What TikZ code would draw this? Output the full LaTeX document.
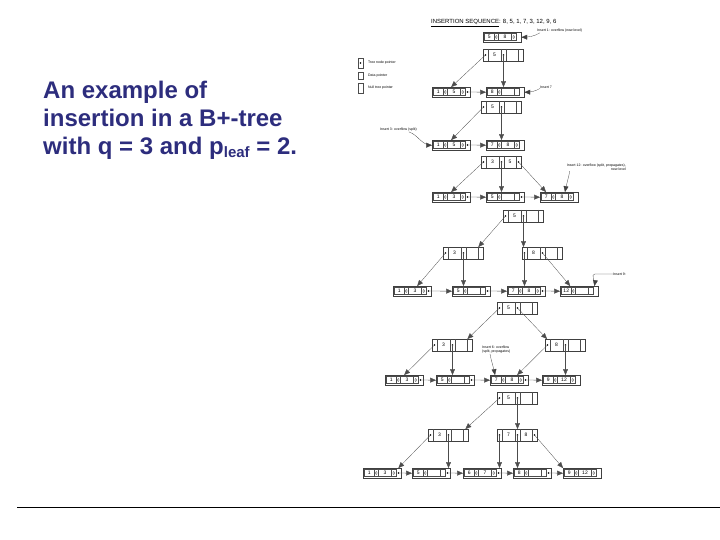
\documentclass[tikz,border=0pt]{standalone}
\usepackage{fontspec}
\setmainfont{Liberation Sans}
\usepackage{xcolor}
\usepackage{tikz}
\usetikzlibrary{arrows}

\definecolor{slideblue}{HTML}{2D2D7D}

% nodo interno: nombre, x, y, clave 1, clave 2
\newcommand{\treenode}[5]{%
  \begin{scope}[shift={(#2,#3)}]
    \node[nodebox, minimum width=40pt, minimum height=12pt] (#1) at (0,0) {};
    \draw[divider] (5,0) -- (5,12) (18,0) -- (18,12) (23,0) -- (23,12) (35,0) -- (35,12);
    \node[keytxt] at (11.5,6) {#4};
    \node[keytxt] at (29,6) {#5};
    \coordinate (#1-1) at (2.5,6);
    \coordinate (#1-2) at (20.5,6);
    \coordinate (#1-3) at (37.5,6);
    \fill (#1-1) circle (0.9pt) (#1-2) circle (0.9pt);
    \if\relax\detokenize{#5}\relax\else\fill (#1-3) circle (0.9pt);\fi
  \end{scope}}

% nodo hoja: nombre, x, y, clave 1, clave 2, siguiente (1 o 0)
\newcommand{\leafnode}[6]{%
  \begin{scope}[shift={(#2,#3)}]
    \node[nodebox, minimum width=38pt, minimum height=10pt] (#1) at (0,0) {};
    \draw[divider] (1.5,1.5) rectangle (33,8.5);
    \draw[divider] (11,1.5) -- (11,8.5) (15.5,1.5) -- (15.5,8.5) (28.5,1.5) -- (28.5,8.5);
    \node[keytxt] at (6.25,5) {#4};
    \node[keytxt] at (22,5) {#5};
    \draw[divider] (13.25,5) ellipse (1pt and 1.6pt);
    \if\relax\detokenize{#5}\relax\else\draw[divider] (30.75,5) ellipse (1pt and 1.6pt);\fi
    \coordinate (#1-n) at (35.5,5);
    \ifnum#6=1 \fill (#1-n) circle (0.9pt);\fi
  \end{scope}}

\begin{document}
\begin{tikzpicture}[x=1pt, y=-1pt,
    nodebox/.style={draw=black!75, line width=0.4pt, inner sep=0pt, anchor=north west},
    divider/.style={line width=0.3pt, draw=black!70},
    keytxt/.style={inner sep=0pt, font=\fontsize{5}{6}\selectfont},
    nota/.style={inner sep=0pt, font=\fontsize{3.5}{4.2}\selectfont},
    tptr/.style={-triangle 45, line width=0.3pt, black!70},
    notearr/.style={-triangle 45, line width=0.3pt, black!75}]
    \useasboundingbox (0,0) rectangle (720,540);

    % Texto de la izquierda
    \node[anchor=base west, inner sep=0pt, text=slideblue, font=\fontsize{24}{28}\selectfont\bfseries] (t1) at (43,99) {An example of};
    \node[anchor=base west, inner sep=0pt, text=slideblue, font=\fontsize{24}{28}\selectfont\bfseries] (t2) at (43,127) {insertion in a B+-tree};
    \node[anchor=base west, inner sep=0pt, text=slideblue, font=\fontsize{24}{28}\selectfont\bfseries] (t3) at (43,155) {with q = 3 and p\raisebox{-3pt}{\fontsize{15}{15}\selectfont leaf} = 2.};

    % Linea inferior
    \draw[line width=1pt] (17,507) -- (720,507);

    % Secuencia de insercion
    \node[anchor=west, inner sep=0pt, font=\fontsize{6}{7}\selectfont] (seq) at (431,23) {\underline{INSERTION SEQUENCE}: 8, 5, 1, 7, 3, 12, 9, 6};

    % Leyenda
    \draw[divider] (358,58) rectangle (363,68);
    \fill (360.5,63) circle (0.9pt);
    \draw[divider] (358,72) rectangle (363,79);
    \draw[divider] (358,83) rectangle (363,93);
    \node[nota, anchor=west] (ley1) at (368,63) {Tree node pointer};
    \node[nota, anchor=west] (ley2) at (368,76) {Data pointer};
    \node[nota, anchor=west] (ley3) at (368,88) {Null tree pointer};

    % Paso 1
    \leafnode{s1}{483}{32}{5}{8}{0}
    \node[nota, anchor=west] (L1) at (537,31) {Insert 1: overflow (new level)};
    \draw[notearr] ([xshift=3pt]L1.south west) to[out=-150, in=0] (s1.east);

    % Paso 2
    \treenode{r2}{483}{49}{5}{}
    \leafnode{l2a}{432}{87}{1}{5}{1}
    \leafnode{l2b}{486}{87}{8}{}{0}
    \draw[tptr] (r2-1) -- (l2a.north);
    \draw[tptr] (r2-2) -- (r2-2 |- l2b.north);
    \draw[tptr] (l2a-n) -- (l2b.west);
    \node[nota, anchor=west] (L7) at (540,87) {Insert 7};
    \draw[notearr] (L7.south west) to[out=-150, in=0] (l2b.east);

    % Paso 3
    \treenode{r3}{481}{101}{5}{}
    \leafnode{l3a}{432}{140}{1}{5}{1}
    \leafnode{l3b}{486}{140}{7}{8}{0}
    \draw[tptr] (r3-1) -- (l3a.north);
    \draw[tptr] (r3-2) -- (r3-2 |- l3b.north);
    \draw[tptr] (l3a-n) -- (l3b.west);
    \node[nota, anchor=west] (L3) at (380,130) {Insert 3: overflow (split)};
    \draw[notearr] ([xshift=-8pt]L3.south east) to[out=-20, in=180] (l3a.west);

    % Paso 4
    \treenode{r4}{481}{156}{3}{5}
    \leafnode{l4a}{432}{192}{1}{3}{1}
    \leafnode{l4b}{486}{192}{5}{}{1}
    \leafnode{l4c}{540}{192}{7}{8}{0}
    \draw[tptr] (r4-1) -- (l4a.north);
    \draw[tptr] (r4-2) -- (r4-2 |- l4b.north);
    \draw[tptr] (r4-3) -- ([xshift=6pt]l4c.north west);
    \draw[tptr] (l4a-n) -- (l4b.west);
    \draw[tptr] (l4b-n) -- (l4c.west);
    \node[nota, anchor=north east, align=right] (L12) at (626,164) {Insert 12: overflow (split, propagates),\\new level};
    \draw[notearr] ([xshift=3pt]L12.south west) to[out=-100, in=80] ([xshift=25pt]l4c.north west);

    % Paso 5
    \treenode{r5}{503}{210}{5}{}
    \treenode{i5a}{443}{247}{3}{}
    \treenode{i5b}{522}{247}{8}{}
    \leafnode{l5a}{393}{286}{1}{3}{1}
    \leafnode{l5b}{452}{286}{5}{}{1}
    \leafnode{l5c}{507}{286}{7}{8}{1}
    \leafnode{l5d}{560}{286}{12}{}{0}
    \draw[tptr] (r5-1) -- ([xshift=-5pt]i5a.north east);
    \draw[tptr] (r5-2) -- (r5-2 |- i5b.north);
    \draw[tptr] (i5a-1) -- ([xshift=5pt]l5a.north);
    \draw[tptr] (i5a-2) -- (i5a-2 |- l5b.north);
    \draw[tptr] (i5b-1) -- (i5b-1 |- l5c.north);
    \draw[tptr] (i5b-2) -- ([xshift=-9pt]l5d.north);
    \draw[tptr] (l5a-n) -- (l5b.west);
    \draw[tptr] (l5b-n) -- (l5c.west);
    \draw[tptr] (l5c-n) -- (l5d.west);
    \node[nota, anchor=west] (L9) at (613,274) {Insert 9:};
    \draw[notearr] (L9.west) -- ++(-18,0) to[out=180, in=80] ([xshift=-4pt]l5d.north east);

    % Paso 6
    \treenode{r6}{497}{302}{5}{}
    \treenode{i6a}{432}{339}{3}{}
    \treenode{i6b}{545}{339}{8}{}
    \leafnode{l6a}{385}{375}{1}{3}{1}
    \leafnode{l6b}{436}{375}{5}{}{1}
    \leafnode{l6c}{490}{375}{7}{8}{1}
    \leafnode{l6d}{542}{375}{9}{12}{0}
    \draw[tptr] (r6-1) -- ([xshift=-5pt]i6a.north east);
    \draw[tptr] (r6-2) -- ([xshift=2pt]i6b.north west);
    \draw[tptr] (i6a-1) -- (l6a.north);
    \draw[tptr] (i6a-2) -- (i6a-2 |- l6b.north);
    \draw[tptr] (i6b-1) -- ([xshift=8pt]l6c.north);
    \draw[tptr] (i6b-2) -- (i6b-2 |- l6d.north);
    \draw[tptr] (l6a-n) -- (l6b.west);
    \draw[tptr] (l6b-n) -- (l6c.west);
    \draw[tptr] (l6c-n) -- (l6d.west);
    \node[nota, anchor=north west, align=left] (L6) at (482,346) {Insert 6: overflow\\(split, propagates)};
    \draw[notearr] ([xshift=8pt]L6.south west) to[out=-80, in=100] ([xshift=5pt]l6c.north west);

    % Paso 7
    \treenode{r7}{497}{392}{5}{}
    \treenode{i7a}{428}{429}{3}{}
    \treenode{i7b}{497}{429}{7}{8}
    \leafnode{l7a}{363}{468}{1}{3}{1}
    \leafnode{l7b}{412}{468}{5}{}{1}
    \leafnode{l7c}{463}{468}{6}{7}{1}
    \leafnode{l7d}{513}{468}{8}{}{1}
    \leafnode{l7e}{563}{468}{9}{12}{0}
    \draw[tptr] (r7-1) -- ([xshift=-3pt]i7a.north east);
    \draw[tptr] (r7-2) -- (r7-2 |- i7b.north);
    \draw[tptr] (i7a-1) -- ([xshift=-3pt]l7a.north east);
    \draw[tptr] (i7a-2) -- (i7a-2 |- l7b.north);
    \draw[tptr] (i7b-1) -- (i7b-1 |- l7c.north);
    \draw[tptr] (i7b-2) -- (i7b-2 |- l7d.north);
    \draw[tptr] (i7b-3) -- (l7e.north west);
    \draw[tptr] (l7a-n) -- (l7b.west);
    \draw[tptr] (l7b-n) -- (l7c.west);
    \draw[tptr] (l7c-n) -- (l7d.west);
    \draw[tptr] (l7d-n) -- (l7e.west);
\end{tikzpicture}
\end{document}
